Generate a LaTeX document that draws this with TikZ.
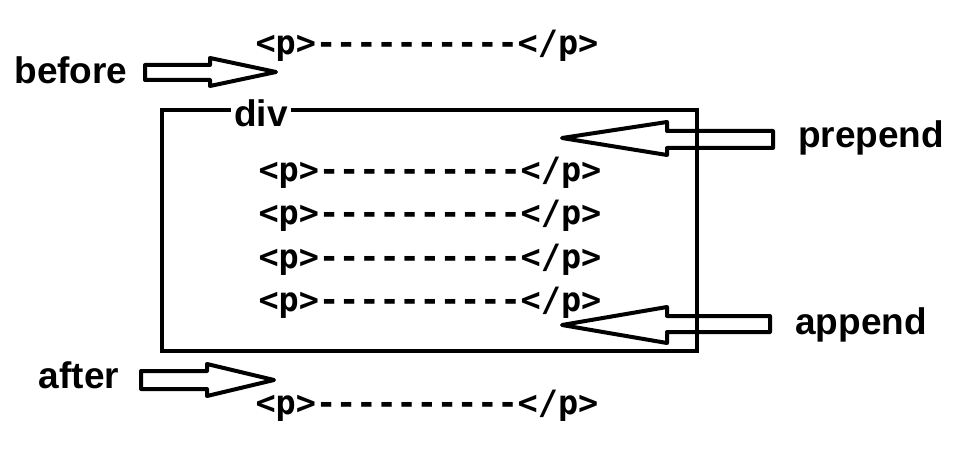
\documentclass[tikz,border=0pt]{standalone}
\usepackage{fontspec}
\setmainfont{Liberation Sans}
\setmonofont{DejaVu Sans Mono}
\usepackage{tikz}

\begin{document}
\begin{tikzpicture}[x=1pt,y=-1pt,
  lbl/.style={font=\fontsize{37}{40}\selectfont\bfseries,inner sep=0pt},
  tagrow/.style={font=\fontsize{33.5}{38}\selectfont\ttfamily\bfseries,inner sep=0pt},
  blk/.style={draw,line width=4pt,line join=round}]
  \useasboundingbox (0,0) rectangle (965,457);
  % the div container
  \node[draw,line width=4pt,inner sep=0pt,minimum width=535pt,minimum height=241pt] (divbox) at (429.5,230.5) {};
  \node[lbl,fill=white,inner xsep=3pt,inner ysep=1pt] (div) at (261,113) {div};
  % paragraphs
  \node[tagrow] (ptop) at (427,46) {<p>----------</p>};
  \foreach \y [count=\i] in {173,216,260,303}
    \node[tagrow] (prow\i) at (430,\y) {<p>----------</p>};
  \node[tagrow] (pbot) at (427,406) {<p>----------</p>};
  % labels
  \node[lbl] (before) at (71,70) {before};
  \node[lbl] (after) at (79,375) {after};
  \node[lbl] (prepend) at (871,138) {prepend};
  \node[lbl] (append) at (861,325) {append};
  % block arrows (hollow)
  \draw[blk] (145,65) -- (210,65) -- (210,58) -- (276,72) -- (210,86) -- (210,80) -- (145,80) -- cycle;
  \draw[blk] (141,371) -- (207,371) -- (207,364) -- (274,380) -- (207,396) -- (207,389) -- (141,389) -- cycle;
  \draw[blk] (562,138) -- (667,122) -- (667,131) -- (773,131) -- (773,148) -- (667,148) -- (667,155) -- cycle;
  \draw[blk] (562,325) -- (667,307) -- (667,316) -- (770,316) -- (770,332) -- (667,332) -- (667,343) -- cycle;
\end{tikzpicture}
\end{document}
